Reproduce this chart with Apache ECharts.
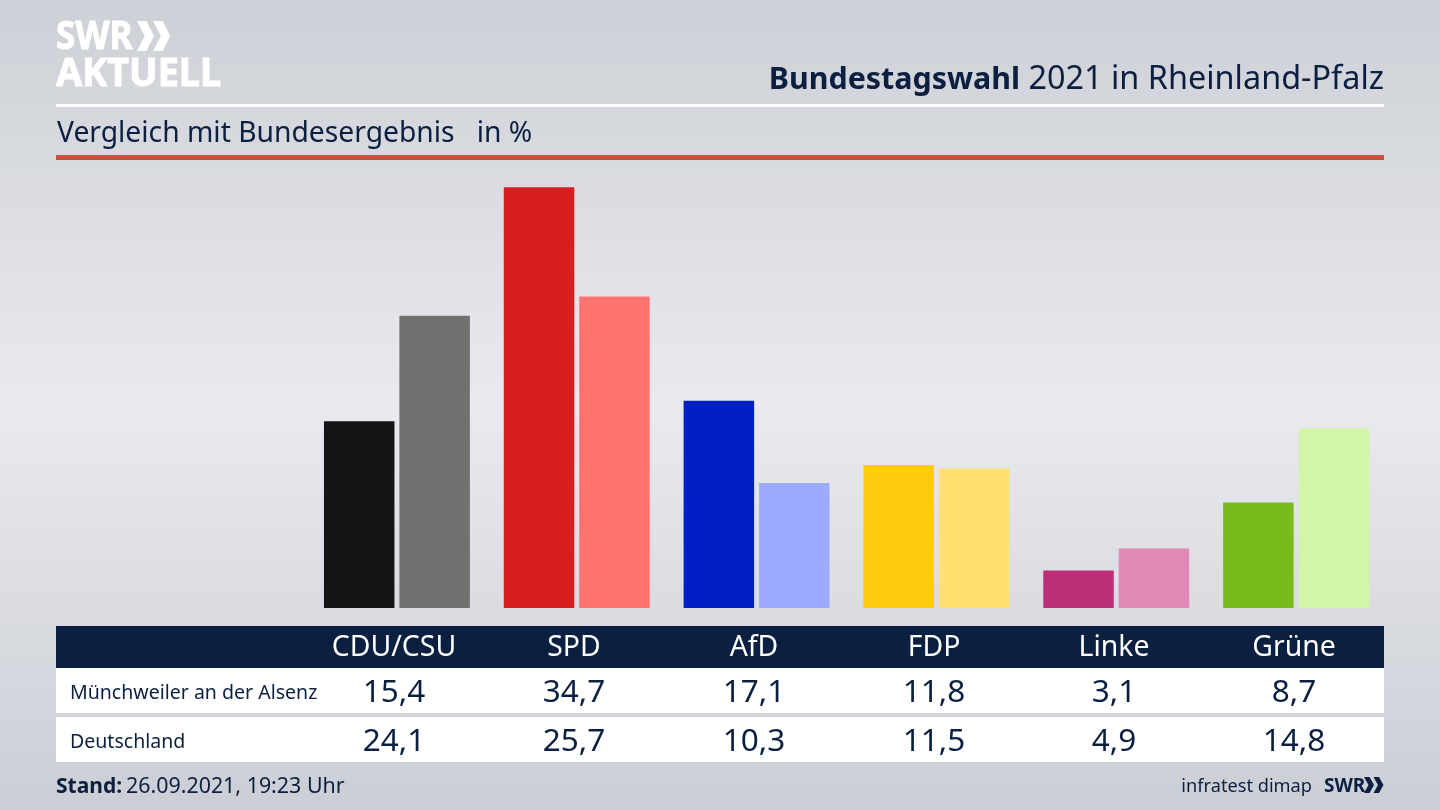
<!DOCTYPE html>
<html lang="de">
<head>
<meta charset="utf-8">
<title>Bundestagswahl 2021 in Rheinland-Pfalz</title>
<style>
  html, body { margin: 0; padding: 0; }
  #diagram { width: 1440px; height: 810px; }
</style>
<script src="https://cdn.jsdelivr.net/npm/echarts@6/dist/echarts.min.js"></script>
</head>
<body>
<div id="diagram"></div>
<script>
let categories = ['CDU/CSU', 'SPD', 'AfD', 'FDP', 'Linke', 'Grüne'];
let rowNames = ['Münchweiler an der Alsenz', 'Deutschland'];
let localValues = [15.4, 34.7, 17.1, 11.8, 3.1, 8.7];
let nationalValues = [24.1, 25.7, 10.3, 11.5, 4.9, 14.8];
let localColors = ['#141414', '#d71f1f', '#0020c4', '#ffcb0a', '#bc2f78', '#78bc1c'];
let nationalColors = ['#72716f', '#ff7470', '#9dabff', '#ffe070', '#e088b6', '#d3f5a6'];

let navy = '#0b2040';
let font = '"Noto Sans", sans-serif';

let diagram = echarts.init(document.getElementById('diagram'));

function label(x, y, text, size, color, align, weight) {
    return {
        type: 'text',
        x: x,
        y: y,
        style: {
            text: text,
            fill: color,
            font: (weight || 'normal') + ' ' + size + 'px ' + font,
            textAlign: align || 'left',
            textVerticalAlign: 'middle'
        }
    };
}

function box(x, y, w, h, color) {
    return { type: 'rect', shape: { x: x, y: y, width: w, height: h }, style: { fill: color } };
}

function chevrons(x, y, w, h, color) {
    let one = function (dx) {
        return {
            type: 'polygon',
            shape: {
                points: [[x + dx, y], [x + dx + w * 0.55, y], [x + dx + w, y + h / 2], [x + dx + w * 0.55, y + h], [x + dx, y + h], [x + dx + w * 0.45, y + h / 2]]
            },
            style: { fill: color }
        };
    };
    return [one(0), one(w * 0.95)];
}

let graphics = [
    box(56, 104, 1328, 3, '#ffffff'),
    box(56, 155, 1328, 5, '#c9503d'),
    box(56, 626, 1328, 42, navy),
    box(56, 668, 1328, 45, '#ffffff'),
    box(56, 717, 1328, 45, '#ffffff'),

    // logo
    {
        type: 'text', x: 56, y: 38, scaleX: 0.88,
        style: { text: 'SWR', fill: '#ffffff', stroke: '#ffffff', lineWidth: 1, font: 'bold 40px ' + font, textVerticalAlign: 'middle' }
    },
    {
        type: 'text', x: 56, y: 75, scaleX: 0.945,
        style: { text: 'AKTUELL', fill: '#ffffff', stroke: '#ffffff', lineWidth: 1, font: 'bold 40px ' + font, textVerticalAlign: 'middle' }
    },

    // heading
    label(1020, 80, 'Bundestagswahl', 30.4, navy, 'right', 'bold'),
    label(1384, 80, '2021 in Rheinland-Pfalz', 32.4, navy, 'right'),
    label(57, 134, 'Vergleich mit Bundesergebnis   in %', 28.25, navy),

    // footer
    label(56, 787, 'Stand:', 21, navy, 'left', 'bold'),
    label(126, 787, '26.09.2021, 19:23 Uhr', 21.4, navy),
    label(1312, 787, 'infratest dimap', 18.2, navy, 'right'),
    {
        type: 'text', x: 1324, y: 786, scaleX: 0.95,
        style: { text: 'SWR', fill: navy, font: 'bold 20px ' + font, textVerticalAlign: 'middle' }
    }
];

graphics = graphics.concat(chevrons(137, 21, 17, 30, '#ffffff'));
graphics = graphics.concat(chevrons(1364, 777, 10, 16, navy));

// table text
graphics.push(label(70, 693, rowNames[0], 19.55, navy));
graphics.push(label(70, 742, rowNames[1], 19.55, navy));

categories.forEach(function (name, i) {
    let x = 394 + i * 180;
    graphics.push(label(x, 648, name, 28.4, '#ffffff', 'center'));
    graphics.push(label(x, 693, localValues[i].toFixed(1).replace('.', ','), 31.5, navy, 'center'));
    graphics.push(label(x, 742, nationalValues[i].toFixed(1).replace('.', ','), 31.5, navy, 'center'));
});

let option = {
    animation: false,
    backgroundColor: {
        type: 'linear',
        x: 0, y: 0, x2: 0, y2: 1,
        colorStops: [
            { offset: 0, color: '#cdd0d6' },
            { offset: 0.5, color: '#e9eaef' },
            { offset: 1, color: '#cbced5' }
        ]
    },
    grid: { left: 307, right: 54, top: 123, bottom: 202 },
    xAxis: {
        type: 'category',
        data: categories,
        axisLine: { show: false },
        axisTick: { show: false },
        axisLabel: { show: false }
    },
    yAxis: {
        type: 'value',
        min: 0,
        max: 40,
        show: false
    },
    series: [
        {
            name: rowNames[0],
            type: 'bar',
            barWidth: 70.5,
            barGap: '7%',
            data: localValues.map(function (v, i) {
                return { value: v, itemStyle: { color: localColors[i] } };
            })
        },
        {
            name: rowNames[1],
            type: 'bar',
            barWidth: 70.5,
            data: nationalValues.map(function (v, i) {
                return { value: v, itemStyle: { color: nationalColors[i] } };
            })
        }
    ],
    graphic: { elements: graphics }
};

diagram.setOption(option);
</script>
</body>
</html>
